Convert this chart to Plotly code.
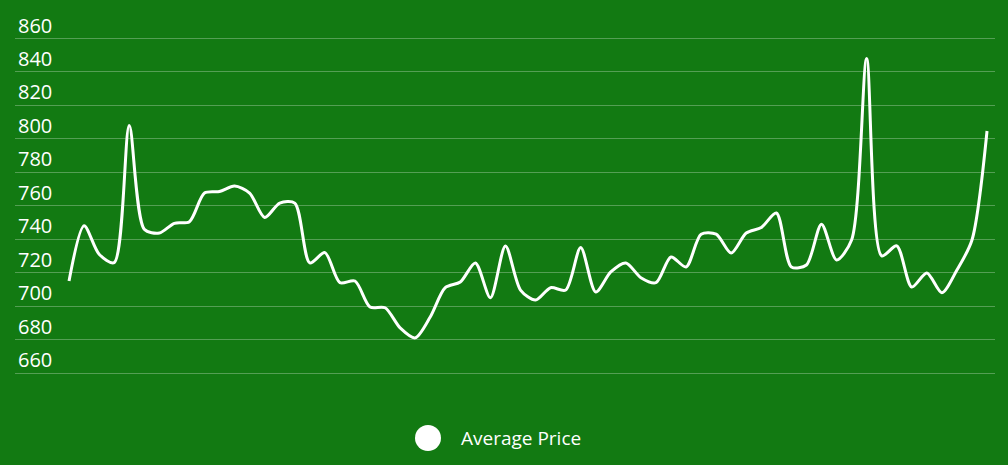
import plotly.graph_objects as go

series_name = "Average Price"
periods = list(range(62))
avg_price = [
    715, 748, 731, 726, 808, 746, 743.7, 749.5, 750.5, 767.6,
    768.5, 771.8, 767.6, 753, 761.6, 761.6, 725.8, 732, 714, 715,
    699.5, 699, 687, 681, 693.5, 711, 714.4, 725.8, 705, 736,
    709.6, 703.6, 711, 709.6, 735, 708.4, 720.4, 725.8, 717, 714,
    729.4, 723.4, 743, 743, 731.7, 743.7, 747, 755.7, 723.4, 724.6,
    749, 727.6, 739.5, 848, 730, 736, 711.4, 719.8, 708, 721.6,
    739.5, 804.7,
]
y_ticks = [660, 680, 700, 720, 740, 760, 780, 800, 820, 840, 860]

bg = "#127a12"

# plot area geometry (pixels)
L, R, T, B = 15, 13, 10, 84
W, H = 1008 - L - R, 465 - T - B


def px_x(p):
    return (p - L) / W


def px_y(p):
    return (465 - B - p) / H


fig = go.Figure()
fig.add_trace(go.Scatter(
    x=periods, y=avg_price, name=series_name, mode="lines",
    line=dict(color="white", width=3, shape="spline", smoothing=0.8),
    showlegend=False,
))

fig.update_layout(
    width=1008, height=465,
    paper_bgcolor=bg, plot_bgcolor=bg,
    margin=dict(l=L, r=R, t=T, b=B),
    font=dict(family="Open Sans, Noto Sans, sans-serif", color="white", size=18),
    xaxis=dict(visible=False, range=[-3.59, 61.53]),
    yaxis=dict(
        range=[655.22, 877.04], tickvals=y_ticks, ticktext=[str(v) for v in y_ticks],
        showgrid=True, gridcolor="rgba(255,255,255,0.28)", gridwidth=1,
        zeroline=False, showline=False, ticks="",
        ticklabelposition="inside", ticklabelshift=-13, ticklabelstandoff=0,
        tickfont=dict(size=20, color="white"),
    ),
    shapes=[dict(type="circle", xref="paper", yref="paper",
                 x0=px_x(415), x1=px_x(441),
                 y0=px_y(451), y1=px_y(425),
                 fillcolor="white", line=dict(width=0))],
    annotations=[dict(text=series_name, xref="paper", yref="paper",
                      x=px_x(459), y=px_y(438),
                      xanchor="left", yanchor="middle", showarrow=False,
                      font=dict(size=19, color="white"))],
)

fig.write_html("out.html", config={"displayModeBar": False},
               post_script="document.body.style.margin='0';")
